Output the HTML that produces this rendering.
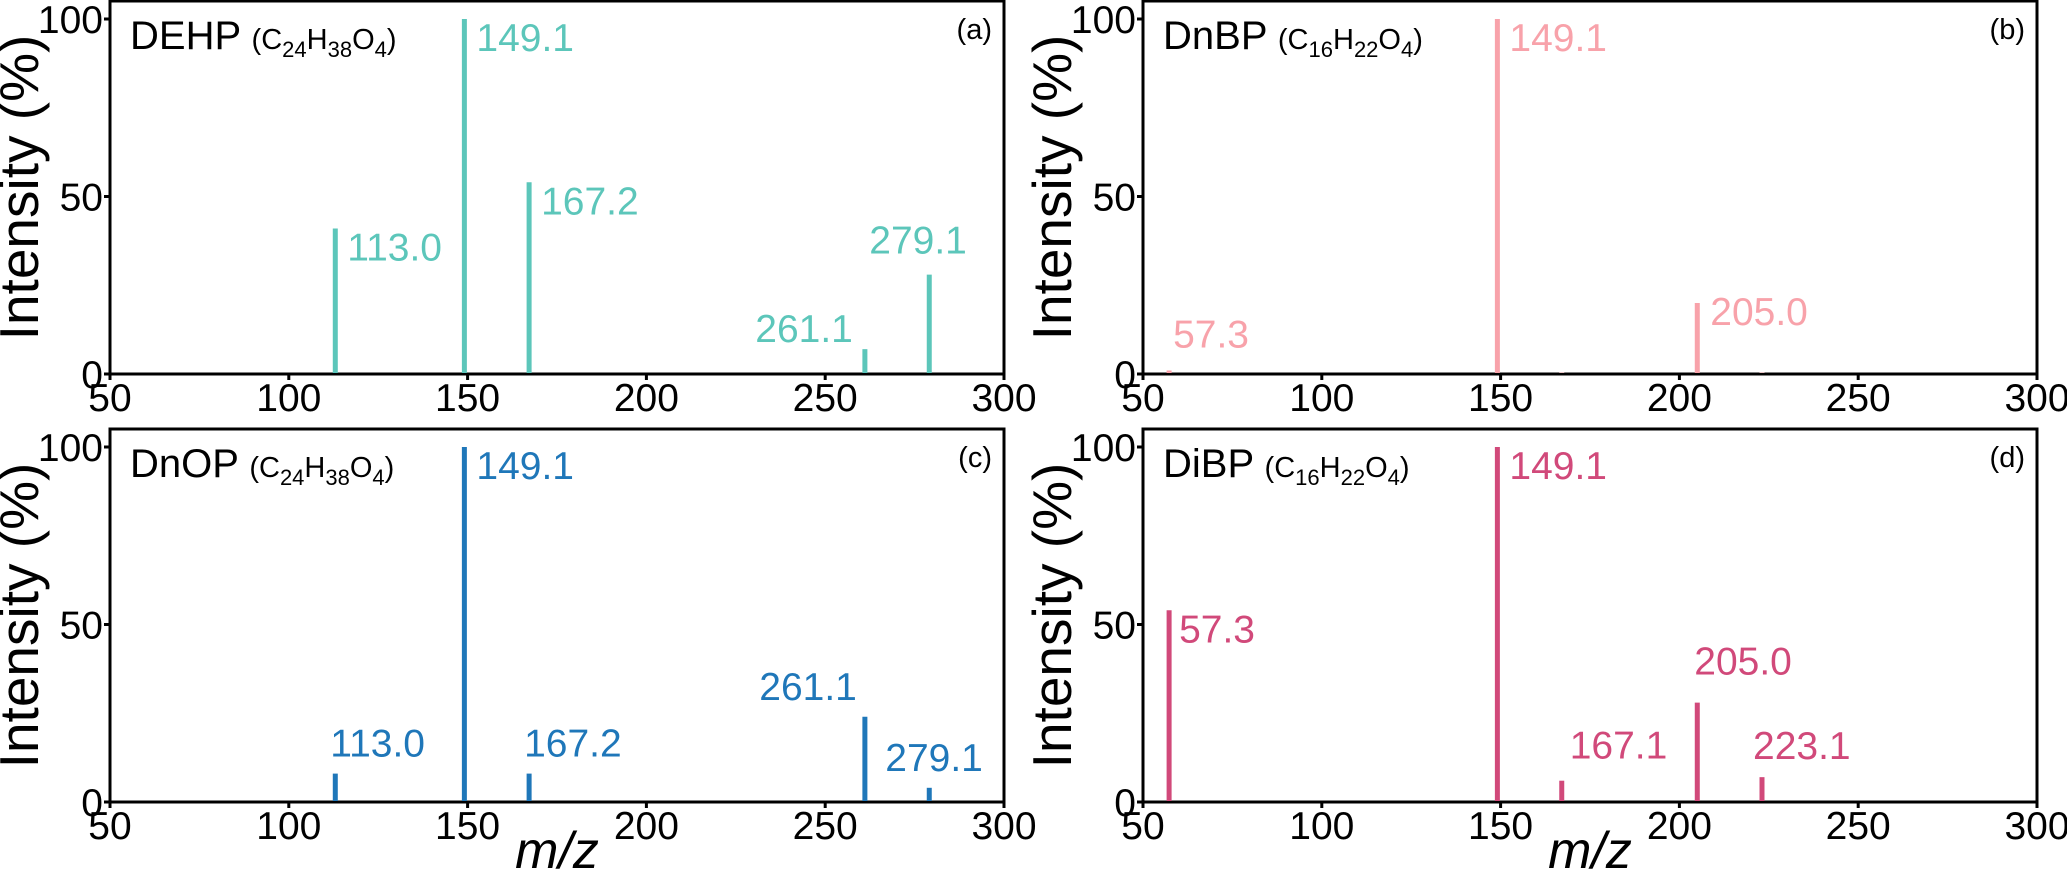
<!DOCTYPE html>
<html><head><meta charset="utf-8"><style>
html,body{margin:0;padding:0;background:#fff;}
svg{display:block;font-family:"Liberation Sans",Arial,sans-serif;}
</style></head><body>
<svg id="chart" width="2067" height="872" viewBox="0 0 2067 872" xmlns="http://www.w3.org/2000/svg"></svg>
<script>
// ---- data ----
const panelNames = ["DEHP","DnBP","DnOP","DiBP"];
const panelTags = ["(a)","(b)","(c)","(d)"];
const panelColors = ["#5cc6ba","#f8a2aa","#1f77b9","#d1497a"];
const mzA = [113.0,149.1,167.2,261.1,279.1];
const intA = [41,100,54,7,28];
const labA = ["113.0","149.1","167.2","261.1","279.1"];
const mzB = [57.3,149.1,167.1,205.0,223.1];
const intB = [1,100,0.4,20,0.4];
const labB = ["57.3","149.1","","205.0",""];
const mzC = [113.0,149.1,167.2,261.1,279.1];
const intC = [8,100,8,24,4];
const labC = ["113.0","149.1","167.2","261.1","279.1"];
const mzD = [57.3,149.1,167.1,205.0,223.1];
const intD = [54,100,6,28,7];
const labD = ["57.3","149.1","167.1","205.0","223.1"];
const xTicks = [50,100,150,200,250,300];
const yTicks = [0,50,100];
// label placement (style): [dx, dy, anchor]
const placeA = [[12,32,"start"],[12,32,"start"],[12,32,"start"],[-12,-7,"end"],[-60,-21,"start"]];
const placeB = [[4,-23,"start"],[12,32,"start"],[0,0,"start"],[13,22,"start"],[0,0,"start"]];
const placeC = [[-5,-17,"start"],[12,32,"start"],[-5,-17,"start"],[-8,-17,"end"],[-44,-17,"start"]];
const placeD = [[10,32,"start"],[12,32,"start"],[8,-22,"start"],[-3,-28,"start"],[-9,-18,"start"]];

const formulas = [["24","38","4"],["16","22","4"],["24","38","4"],["16","22","4"]];
const boxes = [
  {x0:110,x1:1004,top:1,y0:374},
  {x0:1143,x1:2037,top:1,y0:374},
  {x0:110,x1:1004,top:429,y0:802},
  {x0:1143,x1:2037,top:429,y0:802}
];
const series = [[mzA,intA,labA,placeA],[mzB,intB,labB,placeB],[mzC,intC,labC,placeC],[mzD,intD,labD,placeD]];
const NS="http://www.w3.org/2000/svg";
const svg=document.getElementById("chart");
function mk(tag,attrs,parent,text){const e=document.createElementNS(NS,tag);for(const k in attrs)e.setAttribute(k,attrs[k]);if(text!==undefined)e.textContent=text;(parent||svg).appendChild(e);return e;}

boxes.forEach((b,i)=>{
  const g=mk("g",{});
  
  
  const xs=v=>b.x0+(v-50)*(b.x1-b.x0)/250;
  const y100=b.top+18;
  const ys=v=>b.y0-v*(b.y0-y100)/100;
  const r=mk("rect",{x:b.x0,y:b.top,width:b.x1-b.x0,height:b.y0-b.top,fill:"none",stroke:"#000","stroke-width":3},g);
  
  
  yTicks.forEach(t=>{
    const y=ys(t);
    mk("line",{x1:b.x0-6,x2:b.x0,y1:y,y2:y,stroke:"#000","stroke-width":3},g);
    const tl=mk("text",{x:b.x0-7,y:y+14,"text-anchor":"end","font-size":39,fill:"#000"},g,String(t));
    
    
  });
  xTicks.forEach(t=>{
    const x=xs(t);
    mk("line",{x1:x,x2:x,y1:b.y0,y2:b.y0+6,stroke:"#000","stroke-width":3},g);
    const tl=mk("text",{x:x,y:b.y0+37,"text-anchor":"middle","font-size":39,fill:"#000"},g,String(t));
    
    
  });
  const cy=(b.top+b.y0)/2;
  const yt=mk("text",{x:0,y:0,transform:`translate(${b.x0-72},${cy}) rotate(-90)`,"text-anchor":"middle","font-size":55,fill:"#000"},g,"Intensity (%)");
  
  
  if(i>=2){
    const xt=mk("text",{x:(b.x0+b.x1)/2,y:868,"text-anchor":"middle","font-size":52,"font-style":"italic",fill:"#000"},g,"m/z");
    
    
  }
  const f=formulas[i];
  const tt=mk("text",{x:b.x0+20,y:b.top+48,"font-size":40,fill:"#000"},g);
  
  
  mk("tspan",{},tt,panelNames[i]+" ");
  mk("tspan",{"font-size":29},tt,"(C");
  mk("tspan",{"font-size":22,dy:8},tt,f[0]);
  mk("tspan",{"font-size":29,dy:-8},tt,"H");
  mk("tspan",{"font-size":22,dy:8},tt,f[1]);
  mk("tspan",{"font-size":29,dy:-8},tt,"O");
  mk("tspan",{"font-size":22,dy:8},tt,f[2]);
  mk("tspan",{"font-size":29,dy:-8},tt,")");
  const pt=mk("text",{x:b.x1-12,y:b.top+38,"text-anchor":"end","font-size":29,fill:"#000"},g,panelTags[i]);
  
  
  const [mz,inten,lab,pl]=series[i];
  mz.forEach((m,j)=>{
    const x=xs(m), yt2=ys(inten[j]);
    const bar=mk("line",{x1:x,x2:x,y1:b.y0-1,y2:yt2,stroke:panelColors[i],"stroke-width":5},g);
    
    
    if(lab[j]){
      const p=pl[j];
      const lt=mk("text",{x:x+p[0],y:yt2+p[1],"text-anchor":p[2],"font-size":39,fill:panelColors[i]},g,lab[j]);
      
      
    }
  });
});
</script>
</body></html>
